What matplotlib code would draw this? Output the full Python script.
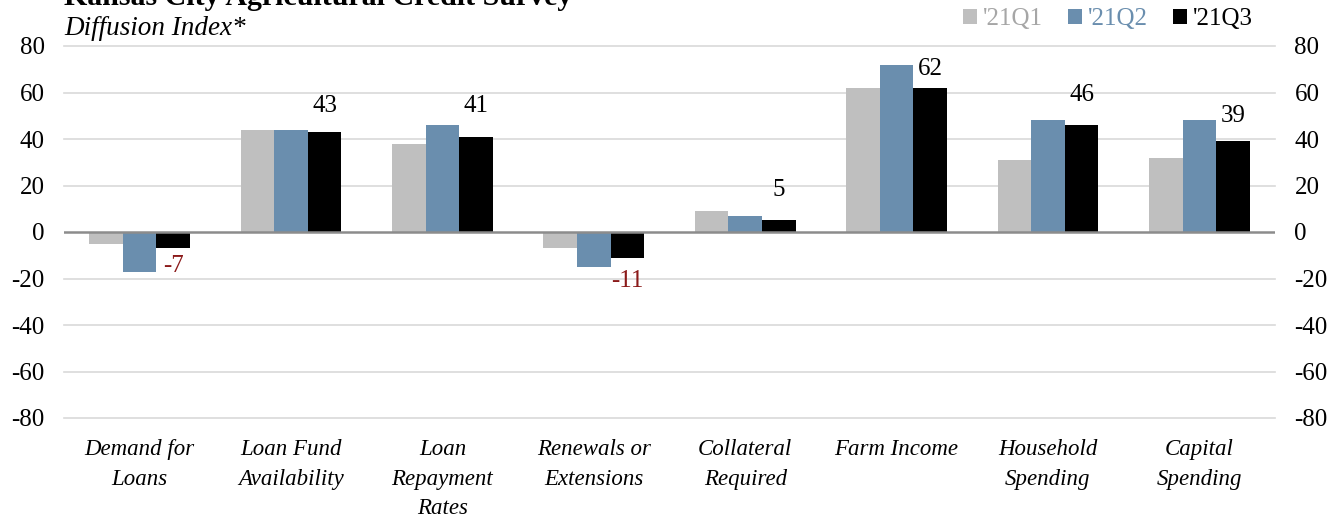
import numpy as np
import matplotlib.pyplot as plt

plt.rcParams['font.family'] = ['Liberation Serif', 'DejaVu Serif']

categories = ['Demand for\nLoans', 'Loan Fund\nAvailability', 'Loan\nRepayment\nRates',
              'Renewals or\nExtensions', 'Collateral\nRequired', 'Farm Income',
              'Household\nSpending', 'Capital\nSpending']
q1 = [-5, 44, 38, -7, 9, 62, 31, 32]
q2 = [-17, 44, 46, -15, 7, 72, 48, 48]
q3 = [-7, 43, 41, -11, 5, 62, 46, 39]
series_names = ["'21Q1", "'21Q2", "'21Q3"]
colors = ['#bfbfbf', '#6a8eae', '#000000']
yticks = [-80, -60, -40, -20, 0, 20, 40, 60, 80]

# gap (points) between each Q3 bar end and its label
label_gap = [5, 11, 14, 9, 14, 6, 14, 10]

fig = plt.figure(figsize=(13.43, 5.23), dpi=100)
ax = fig.add_axes([64 / 1343, 1 - 418 / 523, (1275 - 64) / 1343, (418 - 46) / 523])

x = np.arange(len(categories))
w = 0.222
for i, (vals, c) in enumerate(zip([q1, q2, q3], colors)):
    ax.bar(x + (i - 1) * w, vals, w, color=c, label=series_names[i], zorder=3)

# labels on the latest quarter
for xi, v, g in zip(x, q3, label_gap):
    if v < 0:
        ax.annotate(str(v), (xi + w, v), xytext=(0, -g), textcoords='offset points',
                    ha='center', va='top', fontsize=18, color='#8b1a1a', zorder=4)
    else:
        ax.annotate(str(v), (xi + w, v), xytext=(0, g), textcoords='offset points',
                    ha='center', va='bottom', fontsize=18, color='black', zorder=4)

ax.set_xlim(-0.5, len(categories) - 0.5)
ax.set_ylim(-80, 80)
ax.set_yticks(yticks)
ax.set_yticklabels([str(t) for t in yticks])
ax.tick_params(axis='y', length=0, labelsize=18, pad=14,
               labelleft=True, labelright=True)
ax.set_xticks(x)
ax.set_xticklabels(categories, fontsize=16.5, style='italic', linespacing=1.55)
ax.tick_params(axis='x', length=0, pad=15)
for t in yticks:
    if t != 0:
        ax.axhline(t, color='#d9d9d9', linewidth=1.2, zorder=0, clip_on=False)
ax.axhline(0, color='#8c8c8c', linewidth=1.8, zorder=4)
for s in ax.spines.values():
    s.set_visible(False)

fig.text(64 / 1343, 1 - 5 / 523, 'Kansas City Agricultural Credit Survey',
         fontsize=21.5, fontweight='bold', va='baseline')
fig.text(64 / 1343, 1 - 35 / 523, 'Diffusion Index*', fontsize=19.5,
         style='italic', va='baseline')

leg = fig.legend(*ax.get_legend_handles_labels(), loc='center right',
                 bbox_to_anchor=(1253 / 1343, 1 - 19 / 523), ncol=3, frameon=False,
                 fontsize=18, handlelength=0.55, handleheight=0.55, handletextpad=0.25,
                 columnspacing=1.0, borderaxespad=0, borderpad=0)
for t, c in zip(leg.get_texts(), ['#a6a6a6', '#6a8eae', '#000000']):
    t.set_color(c)

fig.savefig('out.png', dpi=100)
